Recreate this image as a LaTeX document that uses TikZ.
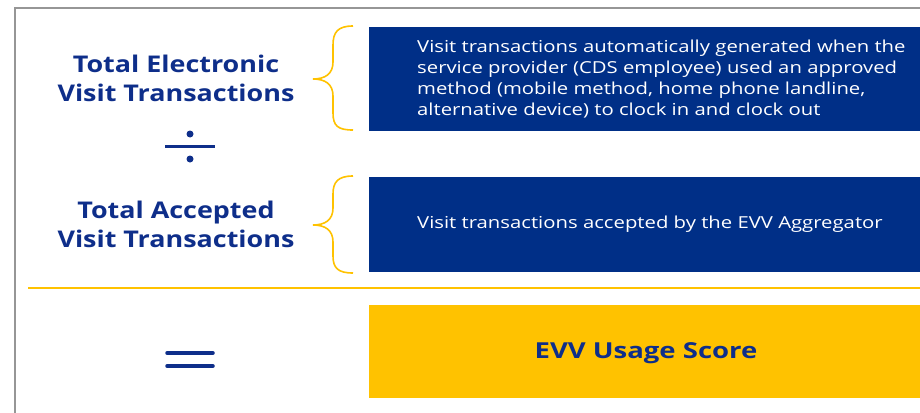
\documentclass[tikz,border=0pt]{standalone}
\usepackage{fontspec}
\setmainfont{Open Sans}
\newfontfamily\titlefont{Open Sans}[FakeStretch=1.17]
\newfontfamily\bodyfont{Open Sans}[FakeStretch=1.23]
\newfontfamily\scorefont{Open Sans}[FakeStretch=1.25]
\definecolor{navy}{RGB}{0,47,135}
\definecolor{titlenavy}{RGB}{14,46,138}
\definecolor{gold}{RGB}{255,194,0}
\definecolor{framegray}{RGB}{150,150,150}
\tikzset{
  navybox/.style={fill=navy, draw=none, inner sep=0pt, anchor=north west},
  goldbox/.style={fill=gold, draw=none, inner sep=0pt, anchor=north west},
  boxtext/.style={text=white, align=left, anchor=west, inner sep=0pt, font=\bodyfont\fontsize{16.5}{21}\selectfont},
  titletext/.style={text=titlenavy, align=center, inner sep=0pt, font=\titlefont\bfseries\fontsize{23}{29}\selectfont},
  scoretext/.style={text=titlenavy, inner sep=0pt, font=\scorefont\bfseries\fontsize{22}{25}\selectfont},
  bracestyle/.style={draw=gold, line width=1.6pt},
  opline/.style={draw=titlenavy, line width=3.5pt},
}
\begin{document}
\begin{tikzpicture}[x=1pt,y=-1pt]
\useasboundingbox (0,0) rectangle (920,412);
\fill[white] (0,0) rectangle (920,412);
% frame
\draw[framegray, line width=2pt] (15,420) -- (15,8) -- (930,8);
% boxes
\node[navybox, minimum width=560pt, minimum height=104pt] (b1) at (369,27) {};
\node[navybox, minimum width=560pt, minimum height=95pt] (b2) at (369,177) {};
\node[goldbox, minimum width=560pt, minimum height=93pt] (b3) at (369,305) {};
% box texts
\node[boxtext] (t1) at (417,79) {Visit transactions automatically generated when the\\service provider (CDS employee) used an approved\\method (mobile method, home phone landline,\\alternative device) to clock in and clock out};
\node[boxtext] (t2) at (417,224) {Visit transactions accepted by the EVV Aggregator};
\node[scoretext] (t3) at (646,353) {EVV Usage Score};
% titles
\node[titletext] (h1) at (176,78) {Total Electronic\\Visit Transactions};
\node[titletext] (h2) at (176,224) {Total Accepted\\Visit Transactions};
% braces
\draw[bracestyle] (353,26) .. controls (338,26) and (333,32) .. (333,45) -- (333,62) .. controls (333,74) and (325,79) .. (313,79) .. controls (325,79) and (333,84) .. (333,96) -- (333,113) .. controls (333,126) and (338,130) .. (353,130);
\draw[bracestyle] (353,176) .. controls (338,176) and (333,182) .. (333,194) -- (333,208) .. controls (333,220) and (325,225) .. (313,225) .. controls (325,225) and (333,230) .. (333,242) -- (333,256) .. controls (333,268) and (338,273) .. (353,273);
% divide sign
\fill[titlenavy] (190,134) circle (3.5pt);
\draw[opline, line width=3pt] (165,146) -- (215,146);
\fill[titlenavy] (190,159) circle (3.5pt);
% separator
\draw[gold, line width=2pt] (28,288) -- (925,288);
% equals
\draw[opline, line cap=round] (167,353) -- (213,353);
\draw[opline, line cap=round] (167,366) -- (213,366);
\end{tikzpicture}
\end{document}
